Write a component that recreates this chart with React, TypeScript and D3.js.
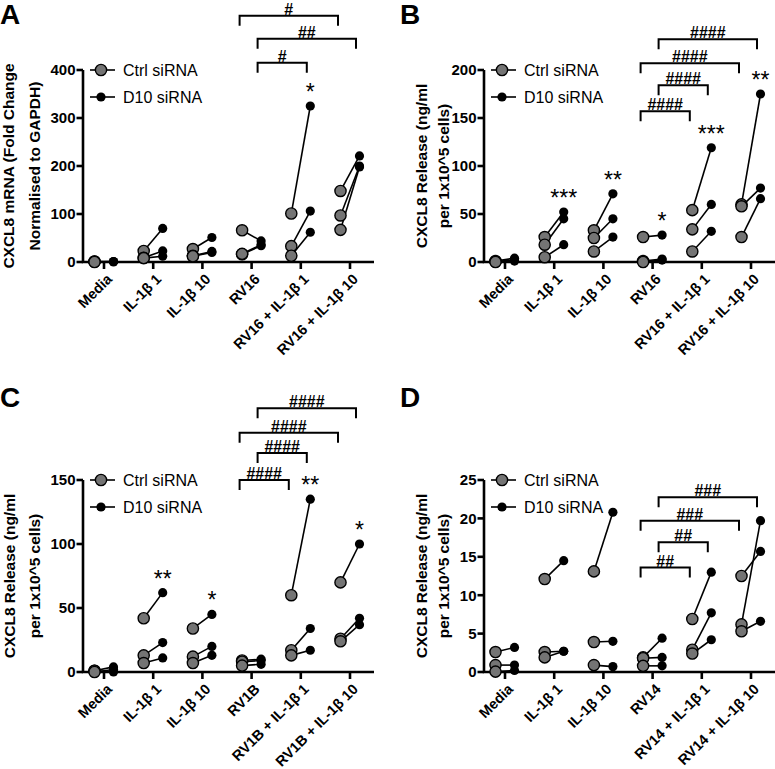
import React from "react";
import * as d3 from "d3";

// categories per panel
const catsA = ["Media", "IL-1β 1", "IL-1β 10", "RV16", "RV16 + IL-1β 1", "RV16 + IL-1β 10"];
const catsB = catsA;
const catsC = ["Media", "IL-1β 1", "IL-1β 10", "RV1B", "RV1B + IL-1β 1", "RV1B + IL-1β 10"];
const catsD = ["Media", "IL-1β 1", "IL-1β 10", "RV14", "RV14 + IL-1β 1", "RV14 + IL-1β 10"];

// values: one row per category, three donors each (paired ctrl -> D10)
const ctrlA = [[1, 1, 0], [23, 9, 8], [27, 13, 12], [66, 16, 17], [101, 33, 13], [148, 97, 67]];
const d10A = [[1, 0, 1], [70, 23, 12], [51, 22, 20], [44, 34, 36], [325, 106, 62], [221, 200, 198]];

const ctrlB = [[1, 0.5, 0], [26, 18, 5], [33, 25, 11], [26, 1, 0], [54, 34, 11], [60, 58, 26]];
const d10B = [[4, 2, 1], [52, 45, 18], [71, 45, 26], [28, 3, 2], [119, 60, 32], [175, 77, 66]];

const ctrlC = [[1, 1, 0], [42, 13, 7], [34, 12, 7], [9, 8, 5], [60, 17, 13], [70, 26, 24]];
const d10C = [[4, 0, 2], [62, 23, 11], [45, 20, 13], [10, 9, 6], [135, 34, 17], [100, 42, 37]];

const ctrlD = [[2.6, 0.9, 0.05], [12.1, 2.6, 1.9], [13.1, 3.9, 0.9], [1.9, 1.8, 0.8], [6.9, 2.9, 2.4], [12.5, 6.2, 5.3]];
const d10D = [[3.2, 0.9, 0.2], [14.5, 2.7, 2.7], [20.8, 4.0, 0.7], [4.4, 1.9, 0.8], [13.0, 7.7, 4.2], [15.7, 19.7, 6.6]];

// y axis ticks
const ticksA = [0, 100, 200, 300, 400];
const ticksB = [0, 50, 100, 150, 200];
const ticksC = [0, 50, 100, 150];
const ticksD = [0, 5, 10, 15, 20, 25];

// comparison brackets: category index + side, level in data units
const bracketsA = [
  { from: 3, fromSide: "ctrl", to: 5, toSide: "ctrl", level: 513, label: "#" },
  { from: 3, fromSide: "d10", to: 5, toSide: "d10", level: 465, label: "##" },
  { from: 3, fromSide: "d10", to: 4, toSide: "d10", level: 415, label: "#" },
];
const bracketsB = [
  { from: 3, fromSide: "d10", to: 5, toSide: "d10", level: 232, label: "####" },
  { from: 3, fromSide: "ctrl", to: 5, toSide: "ctrl", level: 207, label: "####" },
  { from: 3, fromSide: "d10", to: 4, toSide: "d10", level: 184, label: "####" },
  { from: 3, fromSide: "ctrl", to: 4, toSide: "ctrl", level: 157, label: "####" },
];
const bracketsC = [
  { from: 3, fromSide: "d10", to: 5, toSide: "d10", level: 206, label: "####" },
  { from: 3, fromSide: "ctrl", to: 5, toSide: "ctrl", level: 187, label: "####" },
  { from: 3, fromSide: "d10", to: 4, toSide: "d10", level: 171, label: "####" },
  { from: 3, fromSide: "ctrl", to: 4, toSide: "ctrl", level: 150, label: "####" },
];
const bracketsD = [
  { from: 3, fromSide: "d10", to: 5, toSide: "d10", level: 22.75, label: "###" },
  { from: 3, fromSide: "ctrl", to: 5, toSide: "ctrl", level: 19.7, label: "###" },
  { from: 3, fromSide: "d10", to: 4, toSide: "d10", level: 16.9, label: "##" },
  { from: 3, fromSide: "ctrl", to: 4, toSide: "ctrl", level: 13.6, label: "##" },
];

// asterisks above the D10 group
const starsA = [{ cat: 4, label: "*" }];
const starsB = [
  { cat: 1, label: "***" },
  { cat: 2, label: "**" },
  { cat: 3, label: "*" },
  { cat: 4, label: "***" },
  { cat: 5, label: "**" },
];
const starsC = [
  { cat: 1, label: "**" },
  { cat: 2, label: "*" },
  { cat: 4, label: "**" },
  { cat: 5, label: "*" },
];
const starsD: { cat: number; label: string }[] = [];

const titleA = ["CXCL8 mRNA (Fold Change", "Normalised to GAPDH)"];
const titleRelease = ["CXCL8 Release (ng/ml", "per 1x10^5 cells)"];

const FONT = "'Liberation Sans', Arial, sans-serif";
const GREY = "#747474";

function Panel(props: any) {
  const { ox, oy, letter, cats, ctrl, d10, ticks, title, titleX, brackets, stars } = props;
  const yMax = ticks[ticks.length - 1];
  const y = d3.scaleLinear().domain([0, yMax]).range([262, 70]);
  const x = d3.scalePoint<string>().domain(cats).range([104, 350]);
  const dodge = 9.5;
  const sideDx = (s: string) => (s === "ctrl" ? -12 : 6);

  return (
    <g transform={`translate(${ox},${oy})`} fontFamily={FONT}>
      <text x={letter.x} y={letter.y} fontSize={28} fontWeight="bold">
        {letter.t}
      </text>

      {/* y title */}
      {title.map((t: string, i: number) => (
        <text
          key={i}
          transform={`translate(${titleX[i]},166) rotate(-90)`}
          textAnchor="middle"
          fontSize={15.5}
          fontWeight="bold"
        >
          {t}
        </text>
      ))}

      {/* axes */}
      <path d={`M83,${y(yMax)}V${y(0)}H374`} fill="none" stroke="#000" strokeWidth={2.6} />
      {ticks.map((t: number) => (
        <g key={t}>
          <line x1={76.5} x2={83} y1={y(t)} y2={y(t)} stroke="#000" strokeWidth={2.6} />
          <text x={75.5} y={y(t)} dy="0.36em" textAnchor="end" fontSize={15} fontWeight="bold">
            {t}
          </text>
        </g>
      ))}
      {cats.map((c: string) => (
        <g key={c}>
          <line x1={x(c)} x2={x(c)} y1={y(0)} y2={y(0) + 7} stroke="#000" strokeWidth={2.6} />
          <text
            transform={`translate(${(x(c) as number) + 9},${y(0) + 18}) rotate(-45)`}
            textAnchor="end"
            fontSize={14.5}
            fontWeight="bold"
          >
            {c}
          </text>
        </g>
      ))}

      {/* paired lines */}
      {cats.map((c: string, i: number) =>
        ctrl[i].map((v: number, j: number) => (
          <line
            key={`${c}-l${j}`}
            x1={(x(c) as number) - dodge}
            y1={y(v)}
            x2={(x(c) as number) + dodge}
            y2={y(d10[i][j])}
            stroke="#000"
            strokeWidth={1.6}
          />
        ))
      )}
      {cats.map((c: string, i: number) =>
        ctrl[i].map((v: number, j: number) => (
          <circle
            key={`${c}-c${j}`}
            cx={(x(c) as number) - dodge}
            cy={y(v)}
            r={5.6}
            fill={GREY}
            stroke="#000"
            strokeWidth={1.4}
          />
        ))
      )}
      {cats.map((c: string, i: number) =>
        d10[i].map((v: number, j: number) => (
          <circle key={`${c}-d${j}`} cx={(x(c) as number) + dodge} cy={y(v)} r={4.6} fill="#000" />
        ))
      )}

      {/* significance stars */}
      {stars.map((s: any) => (
        <text
          key={s.cat}
          x={(x(cats[s.cat]) as number) + dodge}
          y={y(d3.max(d10[s.cat]) as number) - 6}
          textAnchor="middle"
          fontSize={23}
        >
          {s.label}
        </text>
      ))}

      {/* brackets */}
      {brackets.map((b: any, i: number) => {
        const x1 = (x(cats[b.from]) as number) + sideDx(b.fromSide);
        const x2 = (x(cats[b.to]) as number) + sideDx(b.toSide);
        const by = y(b.level);
        return (
          <g key={i}>
            <path d={`M${x1},${by + 10}V${by}H${x2}V${by + 10}`} fill="none" stroke="#000" strokeWidth={2} />
            <text x={(x1 + x2) / 2} y={by - 1} textAnchor="middle" fontSize={16} fontWeight="bold">
              {b.label}
            </text>
          </g>
        );
      })}

      {/* legend */}
      <line x1={90} x2={115} y1={70} y2={70} stroke="#000" strokeWidth={1.6} />
      <circle cx={101} cy={70} r={5.6} fill={GREY} stroke="#000" strokeWidth={1.4} />
      <text x={123} y={75.5} fontSize={16}>Ctrl siRNA</text>
      <line x1={90} x2={115} y1={97} y2={97} stroke="#000" strokeWidth={1.6} />
      <circle cx={101} cy={97} r={4.6} fill="#000" />
      <text x={123} y={102.5} fontSize={16}>D10 siRNA</text>
    </g>
  );
}

export default function App() {
  return (
    <svg
      width={775}
      height={769}
      style={{ position: "absolute", left: 0, top: 0, background: "#fff" }}
    >
      <rect width={775} height={769} fill="#fff" />
      <Panel
        ox={0} oy={0} letter={{ t: "A", x: 0, y: 24 }}
        cats={catsA} ctrl={ctrlA} d10={d10A} ticks={ticksA}
        title={titleA} titleX={[13.5, 40]} brackets={bracketsA} stars={starsA}
      />
      <Panel
        ox={401} oy={0} letter={{ t: "B", x: -1, y: 24 }}
        cats={catsB} ctrl={ctrlB} d10={d10B} ticks={ticksB}
        title={titleRelease} titleX={[25.5, 48]} brackets={bracketsB} stars={starsB}
      />
      <Panel
        ox={0} oy={410} letter={{ t: "C", x: 0, y: -3 }}
        cats={catsC} ctrl={ctrlC} d10={d10C} ticks={ticksC}
        title={titleRelease} titleX={[15, 40]} brackets={bracketsC} stars={starsC}
      />
      <Panel
        ox={401} oy={410} letter={{ t: "D", x: -1, y: -3 }}
        cats={catsD} ctrl={ctrlD} d10={d10D} ticks={ticksD}
        title={titleRelease} titleX={[26, 48]} brackets={bracketsD} stars={starsD}
      />
    </svg>
  );
}
